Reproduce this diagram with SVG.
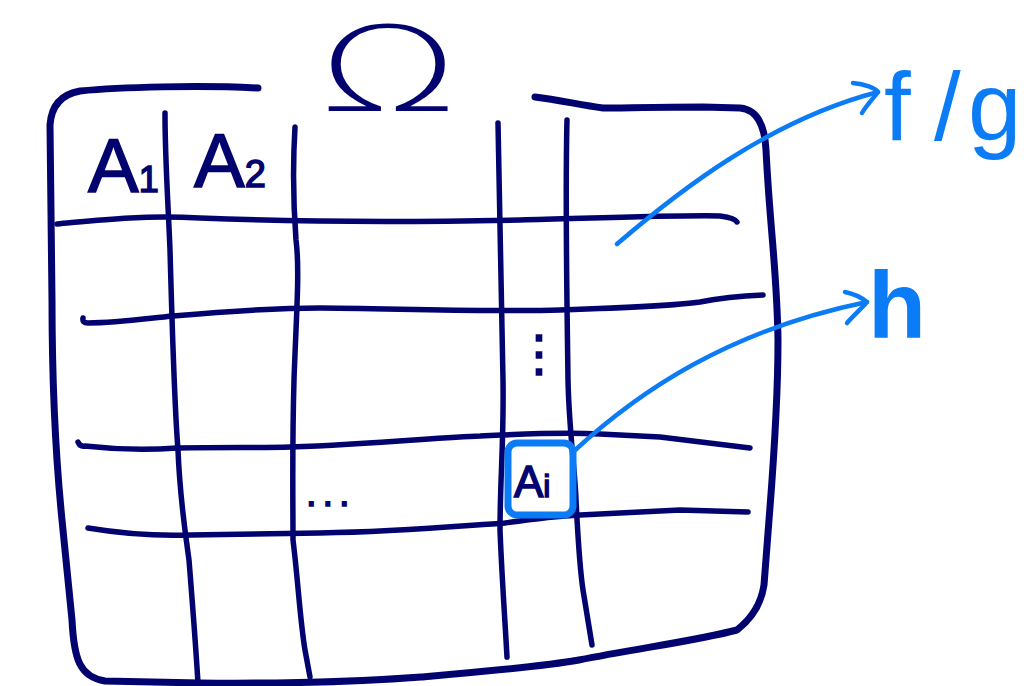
<svg xmlns="http://www.w3.org/2000/svg" width="1024" height="686" viewBox="0 0 1024 686">
<style>
.ink{fill:none;stroke:#03036f;stroke-linecap:round;stroke-linejoin:round}
.frame{stroke-width:7}
.grid{stroke-width:5.5}
.blue{fill:none;stroke:#0b7cf6;stroke-linecap:round;stroke-linejoin:round;stroke-width:4.5}
.lbl{font-family:"Liberation Sans",Arial,sans-serif;fill:#03036f;stroke:#03036f;stroke-width:1.5}
.blbl{font-family:"Liberation Sans",Arial,sans-serif;fill:#0b7cf6}
</style>
<rect width="1024" height="686" fill="#ffffff"/>
<g id="table">
<path class="ink frame" d="M258,88 C200,85 120,87 80,91 Q52,96 50,125 L52,300 C52,380 55,450 62,520 L72,620 C74,660 80,677 105,681 L200,683 C300,684 380,680 421,677 C480,672 540,667 579,660 C640,648 700,640 737,630 Q760,612 764,585 L769,520 C773,470 778,400 778,340 C777,270 770,230 766,150 Q764,110 740,108 L703,107 C660,107 620,108 603,108 C580,105 560,100 535,97"/>
<path class="ink grid" d="M165,113 C165,160 168,200 170,250 C172,320 174,400 178,450 C180,500 185,530 189,560 C193,610 196,650 198,683"/>
<path class="ink grid" d="M295,127 C293,160 293,200 296,240 C300,270 296,320 294,380 C292,450 293,500 293,540 C298,580 300,620 305,650 L310,677"/>
<path class="ink grid" d="M498,123 C500,200 501,300 503,380 C504,440 500,480 500,530 C502,580 505,620 507,657"/>
<path class="ink grid" d="M567,120 C565,200 567,300 568,380 C569,430 575,470 576,500 C578,540 580,570 583,590 L592,645"/>
<path class="ink grid" d="M57,224 C100,220 140,215 200,218 C300,222 420,222 520,220 C600,218 680,215 720,216 Q735,218 737,222"/>
<path class="ink grid" d="M83,318 Q82,323 88,323 C120,323 150,318 173,316 C230,311 280,308 320,308 C420,309 500,312 560,310 C620,308 680,305 700,302 C720,298 740,296 763,295"/>
<path class="ink grid" d="M78,442 Q80,447 85,446 C120,450 150,450 177,448 C230,447 260,448 290,447 C380,444 440,437 480,436 C520,434 560,432 600,434 L660,437 L750,448"/>
<path class="ink grid" d="M88,528 C130,535 160,536 190,535 C240,534 280,534 320,533 C400,532 460,526 505,523 C540,518 560,516 580,515 L680,510 L748,512"/>
</g>
<g id="omega">
<text transform="translate(388,111) scale(1.55,1)" font-family="'DejaVu Sans',sans-serif" font-weight="200" font-size="118" fill="#03036f" text-anchor="middle">Ω</text>
</g>
<g id="label-a1">
<text class="lbl" x="88" y="192" font-size="76">A<tspan font-size="36">1</tspan></text>
</g>
<g id="label-a2">
<text class="lbl" x="194" y="187" font-size="76">A<tspan font-size="38">2</tspan></text>
</g>
<g id="dots-h">
<text class="lbl" x="306" y="506" font-size="38" letter-spacing="6" stroke-width="2.5">...</text>
</g>
<g id="dots-v">
<text class="lbl" x="539" y="370" font-size="50" text-anchor="middle" stroke-width="0.5" font-family="DejaVu Sans">⋮</text>
</g>
<g id="node-ai">
<rect x="508" y="443" width="65" height="72" rx="9" fill="none" stroke="#0b7cf6" stroke-width="7"/>
<text class="lbl" x="514" y="497" font-size="44" stroke-width="1">A<tspan font-size="32">i</tspan></text>
</g>
<g id="node-fg">
<text class="blbl" y="140" font-size="96"><tspan x="884">f</tspan><tspan x="934">/</tspan><tspan x="968">g</tspan></text>
</g>
<g id="node-h">
<text class="blbl" x="868" y="338" font-size="95" font-weight="bold">h</text>
</g>
<g id="connectors">
<path class="blue" d="M617,244 C680,190 770,120 878,92"/>
<path class="blue" d="M853,83 C865,84 875,88 878,92 C872,100 866,106 862,113"/>
<path class="blue" d="M573,452 C640,390 730,330 867,302"/>
<path class="blue" d="M845,292 C855,294 862,298 867,302 C860,310 853,316 847,323"/>
</g>
</svg>
